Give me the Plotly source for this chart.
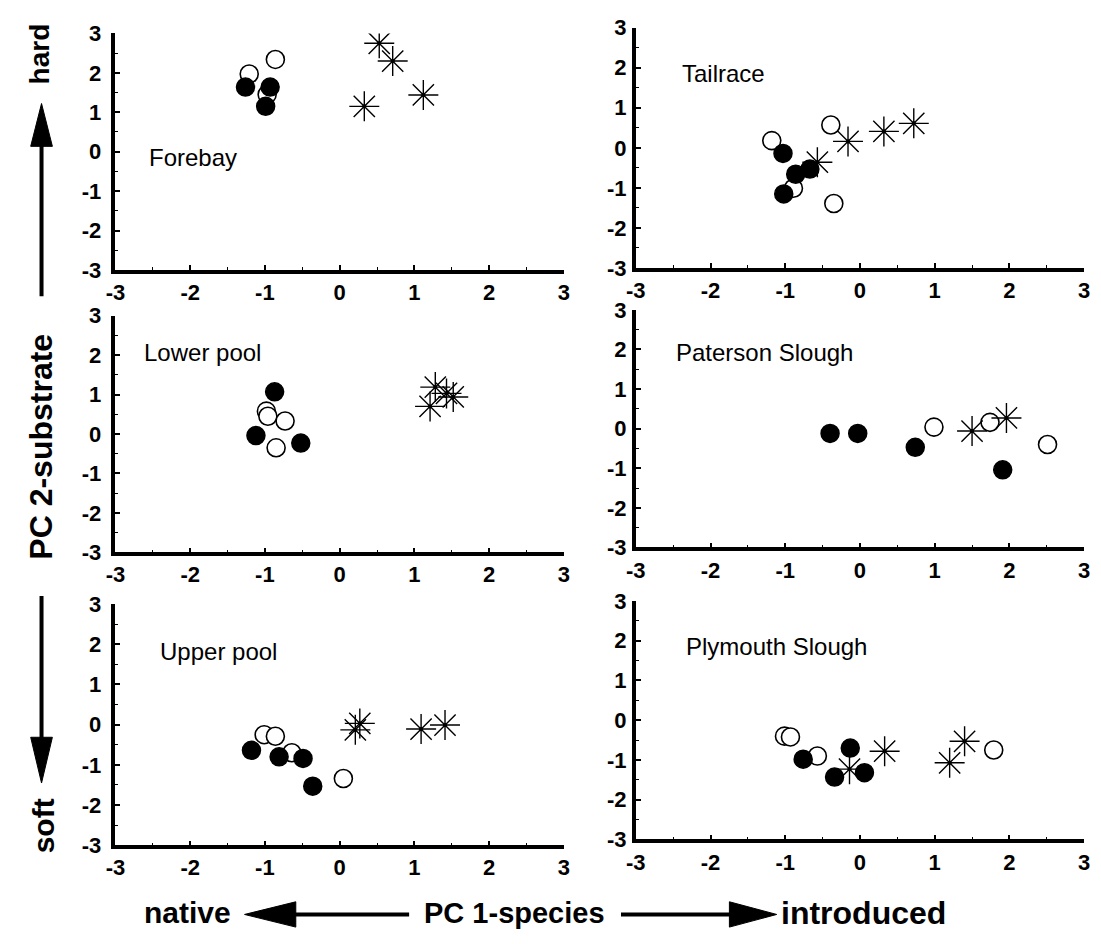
import plotly.graph_objects as go

W, H = 1101, 944

site_names = ["Forebay", "Tailrace", "Lower pool", "Paterson Slough", "Upper pool", "Plymouth Slough"]
tick_vals = [-3, -2, -1, 0, 1, 2, 3]
tick_text = ["-3", "-2", "-1", "0", "1", "2", "3"]

# ---- data (PC1, PC2 scores) ----
forebay_open_x = [-1.21, -0.86, -0.97]
forebay_open_y = [1.97, 2.34, 1.45]
forebay_filled_x = [-1.26, -0.93, -0.99]
forebay_filled_y = [1.64, 1.64, 1.15]
forebay_star_x = [0.53, 0.71, 1.12, 0.33]
forebay_star_y = [2.75, 2.30, 1.44, 1.15]

tailrace_open_x = [-1.18, -0.39, -0.89, -0.35]
tailrace_open_y = [0.18, 0.57, -1.01, -1.39]
tailrace_filled_x = [-1.03, -0.86, -0.67, -1.02]
tailrace_filled_y = [-0.14, -0.66, -0.53, -1.15]
tailrace_star_x = [-0.57, -0.16, 0.32, 0.72]
tailrace_star_y = [-0.36, 0.16, 0.41, 0.61]

lower_open_x = [-0.98, -0.96, -0.73, -0.85]
lower_open_y = [0.58, 0.45, 0.33, -0.35]
lower_filled_x = [-0.87, -1.12, -0.52]
lower_filled_y = [1.07, -0.04, -0.23]
lower_star_x = [1.28, 1.43, 1.52, 1.21]
lower_star_y = [1.19, 1.03, 0.94, 0.70]

paterson_open_x = [0.99, 1.74, 2.51]
paterson_open_y = [0.04, 0.16, -0.40]
paterson_filled_x = [-0.40, -0.03, 0.74, 1.91]
paterson_filled_y = [-0.12, -0.12, -0.47, -1.04]
paterson_star_x = [1.50, 1.96]
paterson_star_y = [-0.06, 0.27]

upper_open_x = [-1.01, -0.86, -0.64, 0.05]
upper_open_y = [-0.25, -0.29, -0.70, -1.34]
upper_filled_x = [-1.18, -0.81, -0.49, -0.36]
upper_filled_y = [-0.64, -0.80, -0.84, -1.53]
upper_star_x = [0.21, 0.27, 1.09, 1.41]
upper_star_y = [-0.13, 0.03, -0.11, -0.01]

plymouth_open_x = [-1.01, -0.93, -0.57, 1.79]
plymouth_open_y = [-0.40, -0.42, -0.90, -0.75]
plymouth_filled_x = [-0.76, -0.13, -0.34, 0.06]
plymouth_filled_y = [-0.98, -0.70, -1.43, -1.32]
plymouth_star_x = [-0.14, 0.33, 1.20, 1.40]
plymouth_star_y = [-1.23, -0.78, -1.07, -0.53]

panels = [
    (forebay_open_x, forebay_open_y, forebay_filled_x, forebay_filled_y, forebay_star_x, forebay_star_y),
    (tailrace_open_x, tailrace_open_y, tailrace_filled_x, tailrace_filled_y, tailrace_star_x, tailrace_star_y),
    (lower_open_x, lower_open_y, lower_filled_x, lower_filled_y, lower_star_x, lower_star_y),
    (paterson_open_x, paterson_open_y, paterson_filled_x, paterson_filled_y, paterson_star_x, paterson_star_y),
    (upper_open_x, upper_open_y, upper_filled_x, upper_filled_y, upper_star_x, upper_star_y),
    (plymouth_open_x, plymouth_open_y, plymouth_filled_x, plymouth_filled_y, plymouth_star_x, plymouth_star_y),
]

# ---- layout geometry (pixels) ----
col_px = [(107, 562), (635, 1090), (107, 562), (635, 1090), (107, 562), (635, 1090)]
row_px = [(22, 265), (16, 263), (312, 555), (306, 550), (608, 856), (605, 850)]
label_pos = [(-2.58, -0.14), (-2.41, 1.86), (-2.65, 2.06), (-2.49, 1.92), (-2.43, 1.81), (-2.35, 1.85)]


def px(x, y):
    return x / W, 1 - y / H


fig = go.Figure()
tick_font = dict(family="Liberation Sans, Arial, sans-serif", size=22, color="black", weight="bold")

for i, (ox, oy, fx, fy, sx, sy) in enumerate(panels):
    n = i + 1
    xa = "x" if n == 1 else f"x{n}"
    ya = "y" if n == 1 else f"y{n}"
    fig.add_trace(go.Scatter(x=ox, y=oy, mode="markers", xaxis=xa, yaxis=ya, showlegend=False,
                             marker=dict(symbol="circle", size=18, color="white",
                                         line=dict(color="black", width=1.6))))
    fig.add_trace(go.Scatter(x=fx, y=fy, mode="markers", xaxis=xa, yaxis=ya, showlegend=False,
                             marker=dict(symbol="circle", size=18, color="black",
                                         line=dict(color="black", width=1.5))))
    fig.add_trace(go.Scatter(x=sx, y=sy, mode="markers", xaxis=xa, yaxis=ya, showlegend=False,
                             marker=dict(symbol="asterisk-open", size=25, color="black",
                                         line=dict(color="black", width=1.4))))
    fig.add_trace(go.Scatter(x=sx, y=sy, mode="markers", xaxis=xa, yaxis=ya, showlegend=False,
                             marker=dict(symbol="circle", size=4, color="black")))

    x0, x1 = col_px[i]
    yt, yb = row_px[i]
    left_col = (i % 2 == 0)
    axis_common = dict(range=[-3, 3], tickvals=tick_vals, ticktext=tick_text, showline=True,
                       linewidth=3.5, linecolor="black", ticks="inside", ticklen=5, tickwidth=1.5,
                       tickcolor="black", showgrid=False, zeroline=False, tickfont=tick_font,
                       minor=dict(ticks="inside", ticklen=3, tickwidth=1, dtick=0.5, tickcolor="black"))
    fig.layout[f"xaxis{'' if n == 1 else n}"] = dict(
        domain=[x0 / W, x1 / W], anchor=ya, ticklabelstandoff=0, **axis_common)
    fig.layout[f"yaxis{'' if n == 1 else n}"] = dict(
        domain=[1 - yb / H, 1 - yt / H], anchor=xa,
        ticklabelstandoff=6 if left_col else 1, **axis_common)
    lx, ly = label_pos[i]
    fig.add_annotation(x=lx, y=ly, xref=xa, yref=ya, text=site_names[i], showarrow=False,
                       xanchor="left", yanchor="middle",
                       font=dict(family="Liberation Sans, Arial, sans-serif", size=24, color="black"))

title_font_family = "Liberation Sans, Arial, sans-serif"

# vertical axis title pieces
for txt, (cx, cy), fs in [("hard", (30, 43), 28), ("PC 2-substrate", (32, 447), 32),
                          ("soft", (34, 836), 30)]:
    X, Y = px(cx, cy)
    fig.add_annotation(x=X, y=Y, xref="paper", yref="paper", text=txt, showarrow=False,
                       textangle=-90, xanchor="center", yanchor="middle",
                       font=dict(family=title_font_family, size=fs, color="black", weight="bold"))

# horizontal axis title pieces
for txt, (cx, cy), fs in [("native", (180, 925), 30), ("PC 1-species", (512, 925), 29),
                          ("introduced", (866, 925), 32)]:
    X, Y = px(cx, cy)
    fig.add_annotation(x=X, y=Y, xref="paper", yref="paper", text=txt, showarrow=False,
                       xanchor="center", yanchor="middle",
                       font=dict(family=title_font_family, size=fs, color="black", weight="bold"))


def line_shape(xa_, ya_, xb_, yb_, w=4):
    a = px(xa_, ya_)
    b = px(xb_, yb_)
    return dict(type="line", xref="paper", yref="paper", x0=a[0], y0=a[1], x1=b[0], y1=b[1],
                line=dict(color="black", width=w))


def tri_shape(pts):
    pp = [px(*p) for p in pts]
    d = "M " + " L ".join(f"{p[0]},{p[1]}" for p in pp) + " Z"
    return dict(type="path", xref="paper", yref="paper", path=d, fillcolor="black",
                line=dict(color="black", width=1))


shapes = [
    line_shape(32, 292, 32, 134),
    tri_shape([(32, 94), (21, 138), (43, 138)]),
    line_shape(32, 600, 32, 748),
    tri_shape([(32, 792), (21, 745), (43, 745)]),
    line_shape(405, 927, 285, 927),
    tri_shape([(238, 927), (290, 914), (290, 940)]),
    line_shape(620, 927, 735, 927),
    tri_shape([(778, 927), (730, 914), (730, 940)]),
]

fig.update_layout(width=W, height=H, margin=dict(l=0, r=0, t=0, b=0),
                  paper_bgcolor="white", plot_bgcolor="white", shapes=shapes, showlegend=False)

fig.write_html("out.html")
